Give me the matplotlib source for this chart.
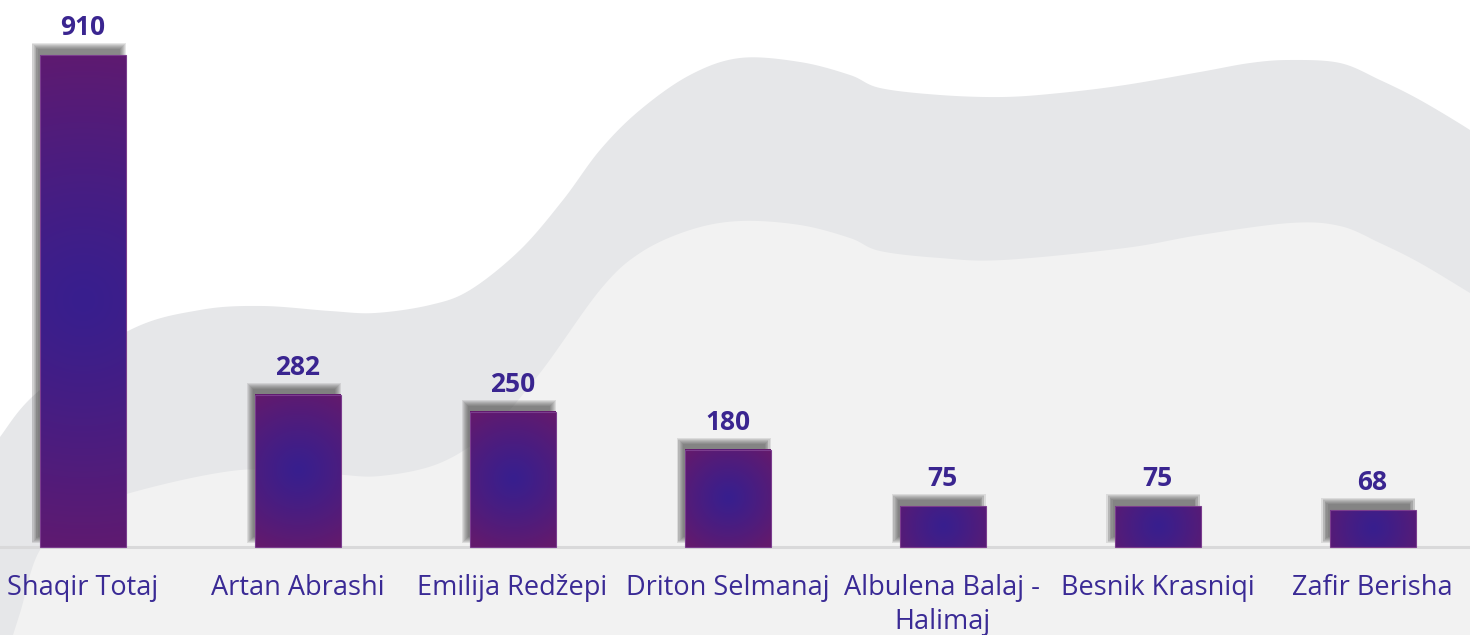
import numpy as np
import matplotlib.pyplot as plt
from matplotlib.patches import Rectangle, Polygon
from matplotlib.colors import to_rgb

# chart data
names = ["Shaqir Totaj", "Artan Abrashi", "Emilija Redžepi", "Driton Selmanaj",
         "Albulena Balaj -\nHalimaj", "Besnik Krasniqi", "Zafir Berisha"]
values = [910, 282, 250, 180, 75, 75, 68]

W, H = 1470, 635
fig = plt.figure(figsize=(W / 100, H / 100), dpi=100)
fig.patch.set_facecolor("white")

# background waves (pixel coords, decoration only)
bg = fig.add_axes([0, 0, 1, 1])
bg.set_xlim(0, W)
bg.set_ylim(H, 0)
bg.axis("off")

dark_edge = [(-20, 470), (0, 437), (40, 390), (130, 330), (200, 310), (262, 306),
             (330, 311), (375, 313), (430, 305), (470, 290), (520, 250), (563, 200),
             (600, 150), (640, 110), (690, 75), (740, 58), (800, 62), (850, 75),
             (880, 88), (940, 95), (1003, 97), (1060, 93), (1125, 85), (1200, 72),
             (1250, 63), (1290, 60), (1340, 63), (1380, 80), (1420, 100), (1470, 130),
             (1490, 145)]
light_edge = [(5, 660), (20, 613), (40, 550), (80, 515), (130, 493), (240, 470),
              (330, 474), (380, 476), (440, 463), (490, 430), (540, 373), (600, 290),
              (640, 253), (690, 230), (740, 221), (800, 225), (850, 238), (880, 251),
              (940, 258), (1003, 260), (1125, 248), (1200, 235), (1290, 223),
              (1340, 226), (1380, 243), (1420, 263), (1470, 293), (1490, 305)]


def catmull(pts, n=20):
    p = np.array(pts, float)
    p = np.vstack([p[0], p, p[-1]])
    out = []
    t = np.linspace(0, 1, n, endpoint=False)[:, None]
    for i in range(1, len(p) - 2):
        p0, p1, p2, p3 = p[i - 1], p[i], p[i + 1], p[i + 2]
        out.append(0.5 * ((2 * p1) + (-p0 + p2) * t
                          + (2 * p0 - 5 * p1 + 4 * p2 - p3) * t ** 2
                          + (-p0 + 3 * p1 - 3 * p2 + p3) * t ** 3))
    out.append(p[-2][None, :])
    return np.vstack(out)


dk = catmull(dark_edge)
dk = np.vstack([dk, [[1500, 700], [-30, 700]]])
bg.add_patch(Polygon(dk, closed=True, fc="#e6e7e9", ec="none"))
lt = catmull(light_edge)
lt = np.vstack([lt, [[1500, 700], [-30, 700]]])
bg.add_patch(Polygon(lt, closed=True, fc="#f2f2f2", ec="none"))

# main chart axes
ax = fig.add_axes([0, 0, 1, 1])
ax.patch.set_alpha(0)
ax.axis("off")
x = np.arange(len(values))
px_x = 215.0          # pixels per category
px_y = 492.0 / 910    # pixels per value unit
x0 = -82.5 / px_x
ax.set_xlim(x0, x0 + W / px_x)
ax.set_ylim(-(H - 547) / px_y, 547 / px_y)

ax.axhline(0, color="#d9d9da", lw=2.2, zorder=1)

bw = 0.40
blue = np.array(to_rgb("#381f8e"))
purple = np.array(to_rgb("#631a6d"))

for xi, v in zip(x, values):
    # blurred shadow, offset up-left
    dx, dy = -4 / px_x, 8 / px_y
    for k in range(4, -3, -1):
        ex, ey = k / px_x, k / px_y
        ax.add_patch(Rectangle((xi - bw / 2 + dx - ex, dy - ey), bw + 2 * ex, v + 2 * ey,
                               fc="#444444", ec="none", alpha=0.13, zorder=2))
    # radial gradient fill
    hp = v * px_y
    wp = bw * px_x
    ny, nx = max(int(hp), 2), int(wp)
    yy, xx = np.mgrid[0:ny, 0:nx]
    cx, cy = wp * 0.5, hp * 0.5
    r = max(60.0, hp * 0.55)
    t = np.clip(np.hypot(xx - cx, yy - cy) / r, 0, 1) ** 1.2
    img = blue[None, None, :] * (1 - t[..., None]) + purple[None, None, :] * t[..., None]
    ax.imshow(img, extent=(xi - bw / 2, xi + bw / 2, 0, v), origin="lower",
              aspect="auto", interpolation="bilinear", zorder=3)
    ax.add_patch(Rectangle((xi - bw / 2, 0), bw, v, fc="none", ec="#7b3d8e",
                           lw=0.8, zorder=4))
    ax.text(xi, v + 14 / px_y, str(v), ha="center", va="bottom", fontsize=19,
            fontweight="bold", color="#3a2590", family="Open Sans", zorder=5)

for xi, n in zip(x, names):
    ax.text(xi, -27 / px_y, n, ha="center", va="top", fontsize=19.5,
            color="#3a2a95", family="Open Sans", linespacing=1.3, zorder=5)

fig.savefig("out.png", dpi=100, facecolor="white")
